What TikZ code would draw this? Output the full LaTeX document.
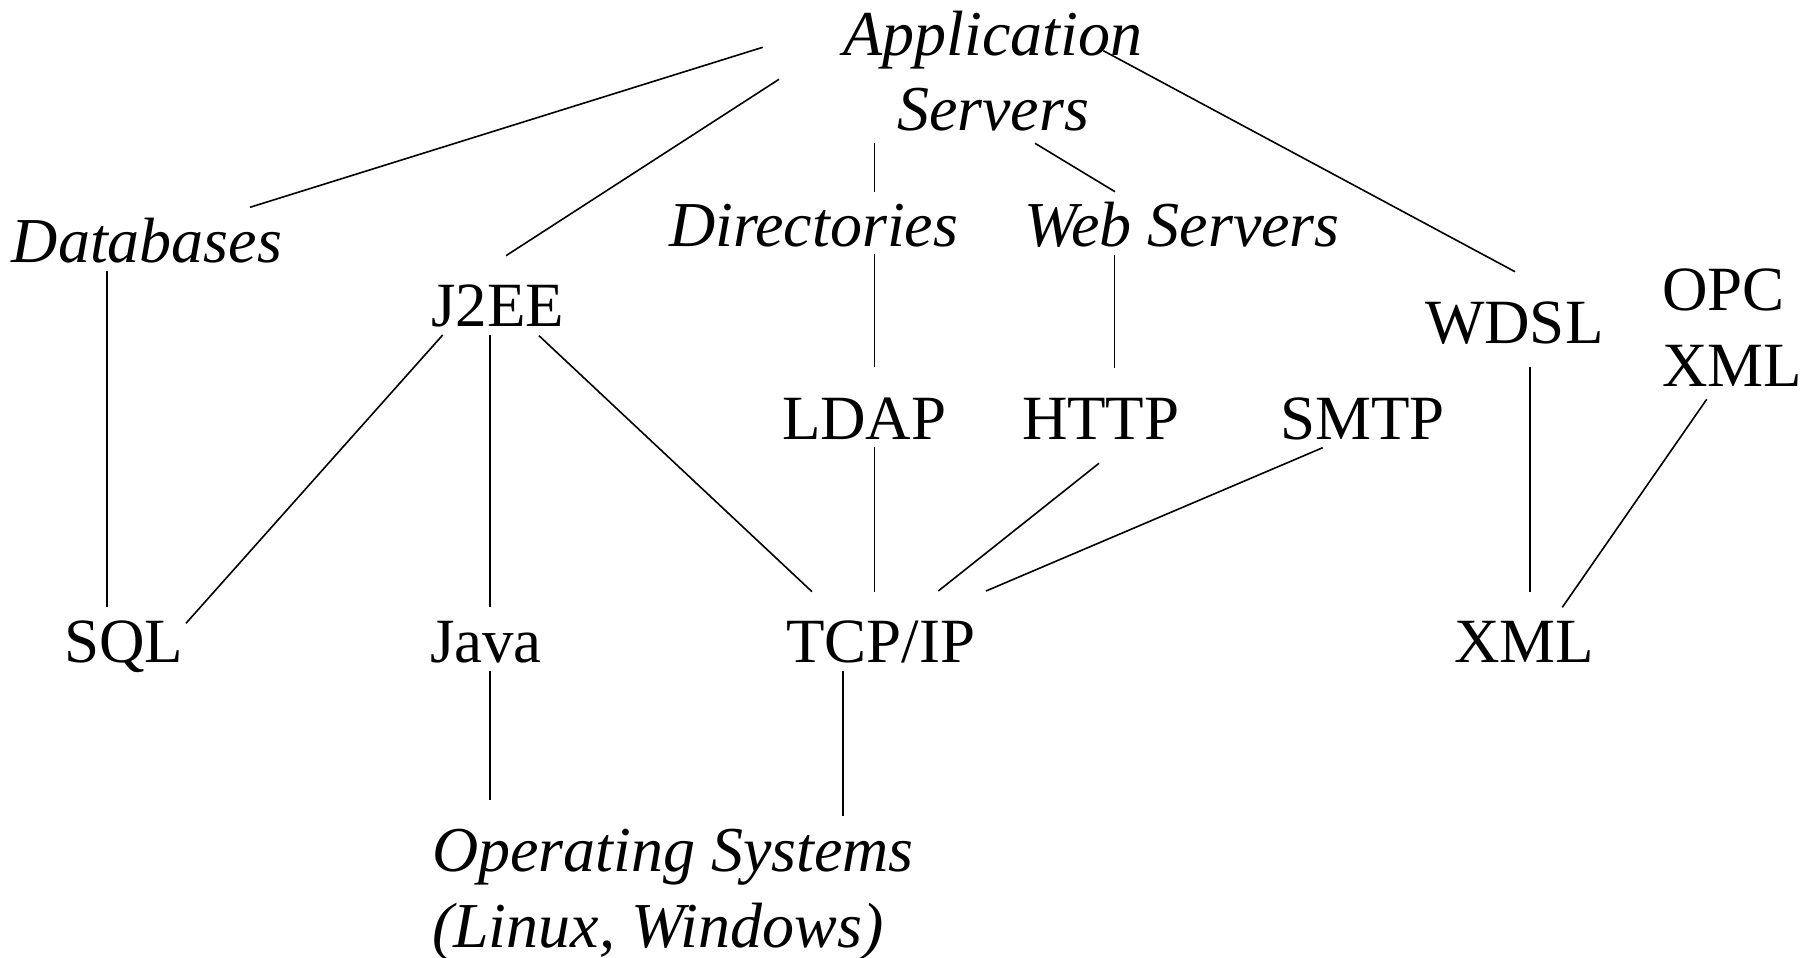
\documentclass[tikz,border=0pt]{standalone}
\usepackage{fontspec}
\setmainfont{Liberation Serif}
\newcommand{\lblfont}{\fontsize{63}{75.5}\selectfont}
\newcommand{\ilblfont}{\fontsize{64}{75.5}\selectfont\itshape}
\begin{document}
\begin{tikzpicture}[x=1pt,y=-1pt,
  lbl/.style={inner sep=0pt, outer sep=0pt, anchor=base west, font=\lblfont},
  ilbl/.style={lbl, font=\ilblfont},
  link/.style={line width=1.6pt}]
\useasboundingbox (0,0) rectangle (1816,958);

% Labels (placed by baseline; two-line labels by their last line)
\node[ilbl, anchor=base, align=center] (app) at (993,130.5) {Application\\Servers};
\node[ilbl] (db)   at (12,262.7)    {Databases};
\node[ilbl] (dir)  at (669,246.5)   {Directories};
\node[ilbl] (web)  at (1024,246.5)  {Web Servers};
\node[lbl]  (j2ee) at (431,326.7)   {J2EE};
\node[lbl]  (wdsl) at (1425,343.3)  {WDSL};
\node[lbl, align=left] (opc) at (1662,386) {OPC\\XML};
\node[lbl]  (ldap) at (782,439.3)   {LDAP};
\node[lbl]  (http) at (1022,439.3)  {HTTP};
\node[lbl]  (smtp) at (1280,439.3)  {SMTP};
\node[lbl]  (sql)  at (64,662.7)    {SQL};
\node[lbl]  (java) at (430,662.7)   {Java};
\node[lbl]  (tcp)  at (786,662.7)   {TCP/IP};
\node[lbl]  (xml)  at (1454,662.7)  {XML};
\node[ilbl, align=left] (os) at (432,947) {Operating Systems\\(Linux, Windows)};

% Connector end points
\coordinate (app-db)   at (762.7,47.3);   \coordinate (db-app)   at (250,207.3);
\coordinate (app-j2ee) at (779,79.3);     \coordinate (j2ee-app) at (506,255.7);
\coordinate (app-dir)  at (874.3,143.3);  \coordinate (dir-app)  at (874.3,191.7);
\coordinate (app-web)  at (1035,143.3);   \coordinate (web-app)  at (1115,191.7);
\coordinate (app-wdsl) at (1103.3,50.7);  \coordinate (wdsl-app) at (1515,271.7);
\coordinate (db-sql)   at (106.7,270.7);  \coordinate (sql-db)   at (106.7,607.3);
\coordinate (j2ee-sql) at (442.7,335);    \coordinate (sql-j2ee) at (186,623.3);
\coordinate (j2ee-java) at (490,335);     \coordinate (java-j2ee) at (490,607.3);
\coordinate (j2ee-tcp) at (539,335.7);    \coordinate (tcp-j2ee) at (812,591.7);
\coordinate (dir-ldap) at (874.3,254);    \coordinate (ldap-dir) at (874.3,367.3);
\coordinate (ldap-tcp) at (874.3,447.3);  \coordinate (tcp-ldap) at (874.3,591.7);
\coordinate (http-tcp) at (1099,463.3);   \coordinate (tcp-http) at (938.3,591);
\coordinate (smtp-tcp) at (1322.7,447.7); \coordinate (tcp-smtp) at (986,591);
\coordinate (web-http) at (1114.5,255);   \coordinate (http-web) at (1114.5,368.3);
\coordinate (wdsl-xml) at (1530,366.7);   \coordinate (xml-wdsl) at (1530,591.7);
\coordinate (opc-xml)  at (1706.7,399.3); \coordinate (xml-opc)  at (1562.3,607.3);
\coordinate (java-os)  at (490,670.7);    \coordinate (os-java)  at (490,800);
\coordinate (tcp-os)   at (842.7,670.7);  \coordinate (os-tcp)   at (842.7,816);

% Connectors
\draw[link] (app-db) -- (db-app);
\draw[link] (app-j2ee) -- (j2ee-app);
\draw[link] (app-dir) -- (dir-app);
\draw[link] (app-web) -- (web-app);
\draw[link] (app-wdsl) -- (wdsl-app);
\draw[link] (db-sql) -- (sql-db);
\draw[link] (j2ee-sql) -- (sql-j2ee);
\draw[link] (j2ee-java) -- (java-j2ee);
\draw[link] (j2ee-tcp) -- (tcp-j2ee);
\draw[link] (dir-ldap) -- (ldap-dir);
\draw[link] (ldap-tcp) -- (tcp-ldap);
\draw[link] (http-tcp) -- (tcp-http);
\draw[link] (smtp-tcp) -- (tcp-smtp);
\draw[link] (web-http) -- (http-web);
\draw[link] (wdsl-xml) -- (xml-wdsl);
\draw[link] (opc-xml) -- (xml-opc);
\draw[link] (java-os) -- (os-java);
\draw[link] (tcp-os) -- (os-tcp);
\end{tikzpicture}
\end{document}
